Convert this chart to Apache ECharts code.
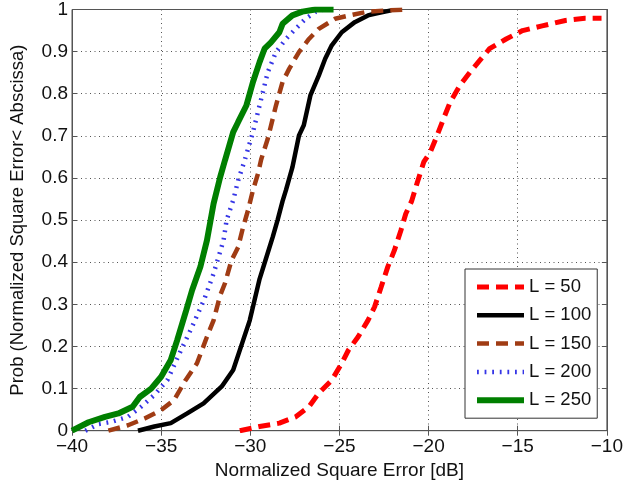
<!DOCTYPE html>
<html>
<head>
<meta charset="utf-8">
<script src="https://cdn.jsdelivr.net/npm/echarts@6/dist/echarts.min.js"></script>
<style>
  html, body { margin: 0; padding: 0; background: #fff; }
  #chart { width: 626px; height: 486px; }
</style>
</head>
<body>
<div id="chart"></div>
<script>
// Empirical CDFs of the normalized square error for several block lengths L
const seriesNames = ['L = 50', 'L = 100', 'L = 150', 'L = 200', 'L = 250'];

const l50X = [-30.59, -29.48, -28.37, -27.45, -26.71, -26.16, -25.43, -24.87, -24.5, -23.95, -23.4, -23.03, -22.66, -22.29, -21.92, -21.55, -21.28, -20.95, -20.63, -20.27, -19.9, -19.52, -19.16, -18.79, -18.24, -17.68, -17.13, -16.58, -15.65, -14.73, -13.63, -12.33, -11.23, -10.3];
const l50Y = [0, 0.01, 0.018, 0.033, 0.057, 0.089, 0.12, 0.16, 0.191, 0.223, 0.262, 0.294, 0.341, 0.389, 0.428, 0.476, 0.515, 0.545, 0.59, 0.638, 0.662, 0.701, 0.741, 0.78, 0.82, 0.851, 0.879, 0.907, 0.93, 0.95, 0.961, 0.974, 0.979, 0.979];

const l100X = [-36.3, -35.38, -34.46, -33.54, -32.62, -31.6, -30.96, -30.4, -30.03, -29.48, -29.11, -28.74, -28.47, -28.19, -28.0, -27.64, -27.27, -27.0, -26.63, -26.16, -25.8, -25.43, -24.87, -24.14, -23.4, -23.03, -22.1];
const l100Y = [0, 0.01, 0.018, 0.041, 0.065, 0.105, 0.144, 0.215, 0.262, 0.36, 0.41, 0.46, 0.5, 0.545, 0.571, 0.625, 0.701, 0.725, 0.796, 0.843, 0.883, 0.915, 0.946, 0.97, 0.986, 0.99, 0.998];

const l150X = [-37.96, -36.86, -35.93, -35.0, -34.27, -33.63, -32.99, -32.43, -32.06, -31.7, -31.42, -31.05, -30.68, -30.4, -30.13, -29.85, -29.57, -29.39, -29.02, -28.56, -28.19, -27.82, -27.27, -26.71, -26.16, -25.24, -24.32, -23.4, -22.3, -21.2];
const l150Y = [0, 0.013, 0.029, 0.049, 0.073, 0.12, 0.16, 0.223, 0.262, 0.32, 0.35, 0.405, 0.436, 0.484, 0.523, 0.571, 0.61, 0.644, 0.693, 0.772, 0.828, 0.859, 0.899, 0.93, 0.954, 0.978, 0.987, 0.995, 0.998, 1.0];

const l200X = [-39.25, -38.5, -37.8, -36.86, -36.12, -35.38, -34.65, -33.9, -33.35, -32.6, -32.06, -31.5, -31.33, -30.96, -30.68, -30.3, -29.85, -29.48, -29.02, -28.56, -28.0, -27.46, -26.9, -26.35, -25.9];
const l200Y = [0, 0.016, 0.021, 0.033, 0.057, 0.085, 0.12, 0.19, 0.239, 0.31, 0.373, 0.452, 0.5, 0.547, 0.594, 0.644, 0.709, 0.772, 0.851, 0.899, 0.93, 0.954, 0.978, 0.994, 1.0];

const l250X = [-40, -39.07, -38.15, -37.4, -36.6, -36.2, -35.56, -35.0, -34.46, -34.1, -33.6, -33.26, -32.8, -32.43, -32.06, -31.69, -31.42, -30.96, -30.68, -30.22, -29.85, -29.48, -29.2, -28.84, -28.37, -28.19, -27.64, -27.08, -26.35, -25.33];
const l250Y = [0, 0.02, 0.033, 0.041, 0.057, 0.08, 0.10, 0.128, 0.168, 0.215, 0.285, 0.334, 0.389, 0.452, 0.539, 0.602, 0.642, 0.709, 0.733, 0.772, 0.828, 0.875, 0.907, 0.922, 0.946, 0.966, 0.986, 0.995, 1.0, 1.0];

const xTicks = { min: -40, max: -10, interval: 5 };
const yTicks = { min: 0, max: 1, interval: 0.1 };

const pairs = (xs, ys) => xs.map((x, i) => [x, ys[i]]);

const FONT = '"Liberation Sans", Arial, Helvetica, sans-serif';
const minus = v => String(v).replace('-', '\u2212');

const styles = [
  { color: '#ff0000', width: 5, type: [12, 7] },
  { color: '#000000', width: 4.5, type: 'solid' },
  { color: '#a03c14', width: 4.5, type: [12, 7] },
  { color: '#3535e6', width: 4.5, type: [1.8, 5.8] },
  { color: '#007f00', width: 6, type: 'solid' }
];
const dataSets = [pairs(l50X, l50Y), pairs(l100X, l100Y), pairs(l150X, l150Y), pairs(l200X, l200Y), pairs(l250X, l250Y)];

const gridLine = { show: true, lineStyle: { color: '#555', width: 1, type: [1, 3.5] } };

const chart = echarts.init(document.getElementById('chart'), null, { renderer: 'canvas' });
chart.setOption({
  animation: false,
  backgroundColor: '#fff',
  textStyle: { fontFamily: FONT },
  grid: { left: 66.5, right: 17, top: 9, bottom: 55.3, show: true, borderColor: '#555', borderWidth: 1 },
  legend: {
    orient: 'vertical',
    left: 465, top: 269,
    data: seriesNames,
    itemWidth: 47, itemHeight: 18, itemGap: 9.3,
    padding: [8.5, 6, 8.5, 9],
    borderColor: '#333', borderWidth: 1, backgroundColor: '#fff',
    textStyle: { fontSize: 18.5, color: '#111', fontFamily: FONT },
    itemStyle: { opacity: 0 },
    lineStyle: { width: 'inherit', type: 'inherit', opacity: 1 },
    selectedMode: false
  },
  xAxis: [{
    type: 'value', min: xTicks.min, max: xTicks.max, interval: xTicks.interval,
    name: 'Normalized Square Error [dB]', nameLocation: 'middle', nameGap: 31,
    nameTextStyle: { fontSize: 19, color: '#111', fontFamily: FONT },
    axisLine: { show: true, lineStyle: { color: '#555', width: 1 } },
    axisTick: { show: true, inside: true, length: 5, lineStyle: { color: '#555' } },
    axisLabel: { fontSize: 19, color: '#111', margin: 7, formatter: minus, fontFamily: FONT },
    splitLine: gridLine
  }, {
    type: 'value', position: 'top', min: xTicks.min, max: xTicks.max, interval: xTicks.interval,
    axisLine: { show: true, lineStyle: { color: '#555', width: 1 } },
    axisTick: { show: true, inside: true, length: 5, lineStyle: { color: '#555' } },
    axisLabel: { show: false }, splitLine: { show: false }
  }],
  yAxis: [{
    type: 'value', min: yTicks.min, max: yTicks.max, interval: yTicks.interval,
    name: 'Prob (Normalized Square Error< Abscissa)', nameLocation: 'middle', nameGap: 45,
    nameTextStyle: { fontSize: 18.5, color: '#111', fontFamily: FONT },
    axisLine: { show: true, lineStyle: { color: '#555', width: 1 } },
    axisTick: { show: true, inside: true, length: 5, lineStyle: { color: '#555' } },
    axisLabel: { fontSize: 19, color: '#111', margin: 4, fontFamily: FONT,
      formatter: v => (v === 0 || v === 1) ? String(v) : v.toFixed(1) },
    splitLine: gridLine
  }, {
    type: 'value', position: 'right', min: yTicks.min, max: yTicks.max, interval: yTicks.interval,
    axisLine: { show: true, lineStyle: { color: '#555', width: 1 } },
    axisTick: { show: true, inside: true, length: 5, lineStyle: { color: '#555' } },
    axisLabel: { show: false }, splitLine: { show: false }
  }],
  series: seriesNames.map((name, i) => ({
    name, type: 'line', xAxisIndex: 0, yAxisIndex: 0,
    data: dataSets[i], showSymbol: false, symbol: 'none', clip: true,
    lineStyle: { color: styles[i].color, width: styles[i].width, type: styles[i].type },
    itemStyle: { color: styles[i].color },
    z: 2 + i
  }))
});
</script>
</body>
</html>
